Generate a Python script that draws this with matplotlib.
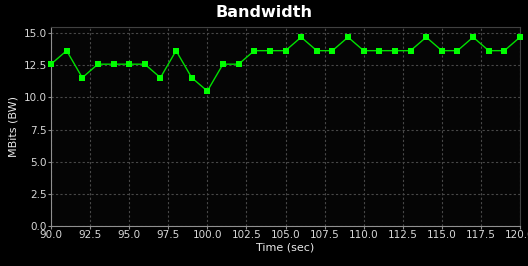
import numpy as np
import matplotlib
matplotlib.use('Agg')
import matplotlib.pyplot as plt

# time stamps (sec) and bandwidth samples (MBits)
time_sec = list(range(90, 121))
bw_mbits = [12.58, 13.63, 11.53, 12.58, 12.58, 12.58, 12.58, 11.53, 13.63, 11.53,
            10.49, 12.58, 12.58, 13.63, 13.63, 13.63, 14.68, 13.63, 13.63, 14.68,
            13.63, 13.63, 13.63, 13.63, 14.68, 13.63, 13.63, 14.68, 13.63, 13.63,
            14.68]
x_ticks = [90.0, 92.5, 95.0, 97.5, 100.0, 102.5, 105.0, 107.5, 110.0, 112.5, 115.0, 117.5, 120.0]
y_ticks = [0.0, 2.5, 5.0, 7.5, 10.0, 12.5, 15.0]

fig = plt.figure(figsize=(5.28, 2.66), dpi=100, facecolor='black')
ax = fig.add_axes([51/528, 1 - 226/266, (520-51)/528, (226-27)/266])
ax.set_facecolor('#050505')

ax.plot(time_sec, bw_mbits, color='#00e000', linewidth=1,
        marker='s', markersize=5, markerfacecolor='#00ff00', markeredgewidth=0,
        clip_on=False, zorder=3)

ax.set_xlim(90, 120)
ax.set_ylim(0, 15.47)
ax.set_xticks(x_ticks)
ax.set_yticks(y_ticks)
ax.set_xticklabels(['%.1f' % t for t in x_ticks])
ax.set_yticklabels(['%.1f' % t for t in y_ticks])

ax.grid(True, color='#484848', linestyle=(0, (2, 2)), linewidth=0.8)
ax.set_axisbelow(True)

for side in ['left', 'bottom']:
    ax.spines[side].set_color('#909090')
for side in ['top', 'right']:
    ax.spines[side].set_color('#404040')

ax.tick_params(colors='#909090', labelcolor='#d8d8d8', labelsize=7.5,
               length=2, width=0.8, pad=1)

ax.set_xlabel('Time (sec)', color='#e8e8e8', fontsize=8, labelpad=2)
ax.set_ylabel('MBits (BW)', color='#e8e8e8', fontsize=8, labelpad=4)
fig.text(0.5, 0.952, 'Bandwidth', color='white', fontsize=11.5,
         fontweight='bold', ha='center', va='center')

fig.savefig('out.png', dpi=100, facecolor='black')
